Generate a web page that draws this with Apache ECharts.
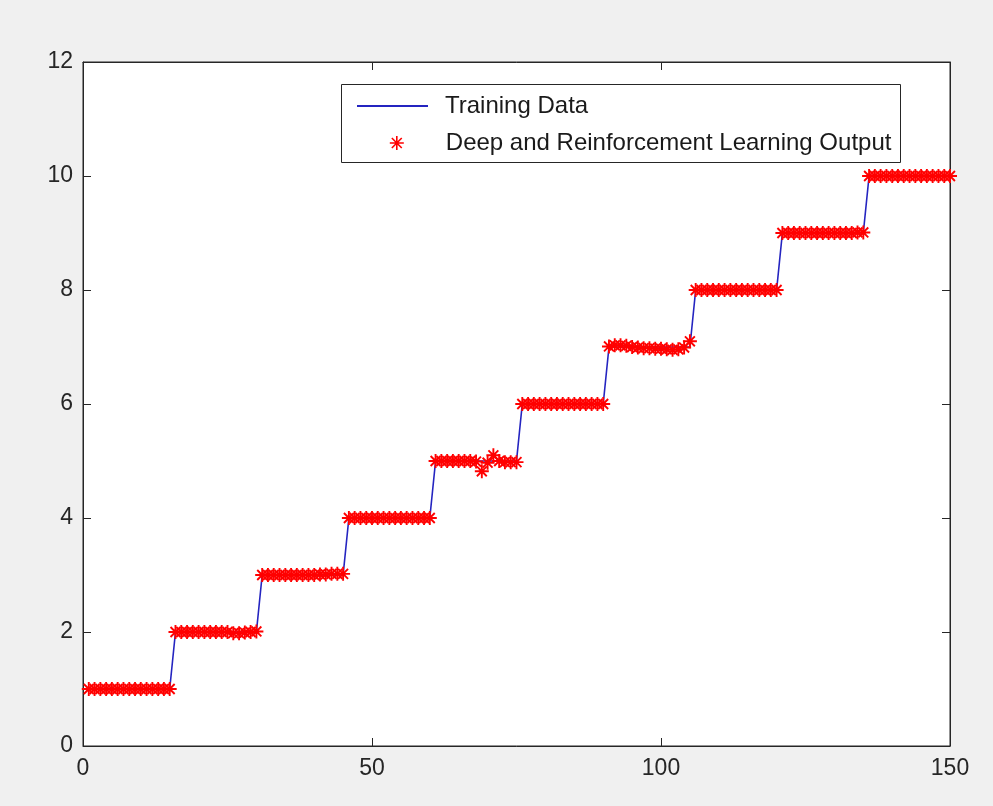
<!DOCTYPE html>
<html>
<head>
<meta charset="utf-8">
<script src="https://cdn.jsdelivr.net/npm/echarts@6/dist/echarts.min.js"></script>
<style>
html,body{margin:0;padding:0;background:#f0f0f0;}
#c{width:993px;height:806px;}
</style>
</head>
<body>
<div id="c"></div>
<script>
// ---- data ----
var xTicks = [0, 50, 100, 150];
var yTicks = [0, 2, 4, 6, 8, 10, 12];
var sampleIndex = [];
for (var i = 1; i <= 150; i++) sampleIndex.push(i);

var trainingData = [
  1,1,1,1,1,1,1,1,1,1,1,1,1,1,1,
  2,2,2,2,2,2,2,2,2,2,2,2,2,2,2,
  3,3,3,3,3,3,3,3,3,3,3,3,3,3,3,
  4,4,4,4,4,4,4,4,4,4,4,4,4,4,4,
  5,5,5,5,5,5,5,5,5,5,5,5,5,5,5,
  6,6,6,6,6,6,6,6,6,6,6,6,6,6,6,
  7,7,7,7,7,7,7,7,7,7,7,7,7,7,7,
  8,8,8,8,8,8,8,8,8,8,8,8,8,8,8,
  9,9,9,9,9,9,9,9,9,9,9,9,9,9,9,
  10,10,10,10,10,10,10,10,10,10,10,10,10,10,10
];

var learningOutput = [
  1,1,1,1,1,1,1,1,1,1,1,1,1,1,1,
  2,2,2,2,2,2,2,2,2,2,1.98,1.98,1.99,2,2.01,
  3,3,3,3,3,3,3,3,3,3,3.01,3.01,3.02,3.02,3.02,
  4,4,4,4,4,4,4,4,4,4,4,4,4,4,4,
  5,5,5,5,5,5,5,4.99,4.82,4.97,5.1,5,4.98,4.98,4.98,
  6,6,6,6,6,6,6,6,6,6,6,6,6,6,6,
  7.01,7.03,7.03,7.02,7,6.99,6.98,6.98,6.97,6.97,6.96,6.95,6.96,6.99,7.1,
  8,8,8,8,8,8,8,8,8,8,8,8,8,8,8,
  9,9,9,9,9,9,9,9,9,9,9,9,9,9.01,9.01,
  10,10,10,10,10,10,10,10,10,10,10,10,10,10,10
];

var seriesNames = ['Training Data', 'Deep and Reinforcement Learning Output'];

// ---- chart ----
var linePts = sampleIndex.map(function (x, k) { return [x, trainingData[k]]; });
var scatPts = sampleIndex.map(function (x, k) { return [x, learningOutput[k]]; });

var AST = 'path://M0,5L10,5M5,0L5,10M1.46,1.46L8.54,8.54M8.54,1.46L1.46,8.54';
var axisColor = '#262626';
var lineColor = '#2424c0';
var FONT = '"Liberation Sans", Arial, sans-serif';

var chart = echarts.init(document.getElementById('c'), null, {renderer: 'canvas'});

function xAxisDef(pos, showLabel) {
  return {
    type: 'value', position: pos, min: 0, max: 150, interval: 50,
    axisLine: {show: true, onZero: false, lineStyle: {color: axisColor, width: 1}},
    axisTick: {show: true, inside: true, length: 8, lineStyle: {color: axisColor}},
    axisLabel: {show: showLabel, color: axisColor, fontSize: 23, fontFamily: FONT, margin: 11,
      formatter: function (v) { return xTicks.indexOf(v) >= 0 ? String(v) : ''; }},
    splitLine: {show: false}
  };
}
function yAxisDef(pos, showLabel) {
  return {
    type: 'value', position: pos, min: 0, max: 12, interval: 2,
    axisLine: {show: true, onZero: false, lineStyle: {color: axisColor, width: 1}},
    axisTick: {show: true, inside: true, length: 8, lineStyle: {color: axisColor}},
    axisLabel: {show: showLabel, color: axisColor, fontSize: 23, fontFamily: FONT, margin: 10,
      formatter: function (v) { return yTicks.indexOf(v) >= 0 ? String(v) : ''; }},
    splitLine: {show: false}
  };
}

chart.setOption({
  backgroundColor: '#f0f0f0',
  animation: false,
  grid: {left: 83, top: 62, right: 43, bottom: 60, show: true,
    backgroundColor: '#ffffff', borderColor: axisColor, borderWidth: 1},
  xAxis: [xAxisDef('bottom', true), xAxisDef('top', false)],
  yAxis: [yAxisDef('left', true), yAxisDef('right', false)],
  graphic: [{
    type: 'rect', left: 341, top: 84, z: 10,
    shape: {width: 559, height: 78},
    style: {fill: '#ffffff', stroke: '#262626', lineWidth: 1}
  }],
  legend: [{
    data: [{name: seriesNames[0], icon: 'rect', itemStyle: {color: lineColor}}],
    left: 357, top: 94, padding: 0, z: 20,
    itemWidth: 71, itemHeight: 2,
    textStyle: {color: '#1a1a1a', fontSize: 24, fontFamily: FONT, padding: [0, 0, 0, 12]},
    selectedMode: false
  }, {
    data: [{name: seriesNames[1], icon: AST}],
    left: 389, top: 131, padding: 0, z: 20,
    itemWidth: 14, itemHeight: 14,
    itemStyle: {color: '#ff0000', borderColor: '#ff0000', borderWidth: 1.6},
    textStyle: {color: '#1a1a1a', fontSize: 24, fontFamily: FONT, padding: [0, 0, 0, 37]},
    selectedMode: false
  }],
  series: [{
    name: seriesNames[0], type: 'line', data: linePts,
    xAxisIndex: 0, yAxisIndex: 0,
    symbol: 'none', lineStyle: {color: lineColor, width: 1.6},
    itemStyle: {color: lineColor}, z: 2
  }, {
    name: seriesNames[1], type: 'scatter', data: scatPts,
    xAxisIndex: 0, yAxisIndex: 0,
    symbol: AST, symbolSize: 14,
    itemStyle: {color: '#ff0000', borderColor: '#ff0000', borderWidth: 1.9, opacity: 1},
    z: 3
  }]
});
</script>
</body>
</html>
